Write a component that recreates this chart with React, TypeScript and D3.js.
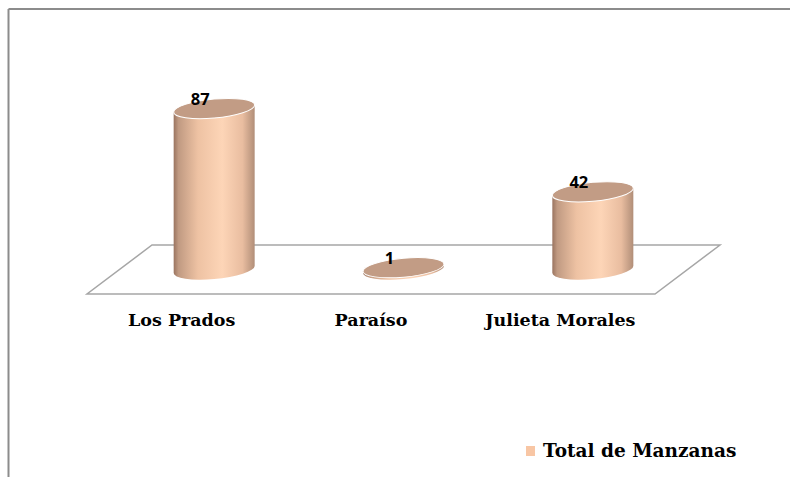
import React from 'react'
import * as d3 from 'd3'

const categories = ['Los Prados', 'Paraíso', 'Julieta Morales']
const manzanas = [87, 1, 42]
const seriesName = 'Total de Manzanas'

const W = 790
const H = 477

// floor (front edge + depth offset)
const frontY = 294
const depthX = 65
const depthY = -49

export default function App() {
	const x = d3.scaleBand<string>().domain(categories).range([87, 655]).padding(0)
	const y = d3.scaleLinear().domain([0, 100]).range([frontY + depthY / 2, frontY + depthY / 2 - 185])

	const midX = (c: string) => x(c)! + x.bandwidth() / 2 + depthX / 2
	const rx = 40.5
	const ry = 9.5

	const floor = [
		[87, frontY], [655, frontY], [655 + depthX, frontY + depthY], [87 + depthX, frontY + depthY],
	]

	return (
		<svg width={W} height={H} style={{ position: 'absolute', left: 0, top: 0, background: '#fff' }}>
			<defs>
				<linearGradient id="body" x1="0" x2="1" y1="0" y2="0">
					<stop offset="0%" stopColor="#9a7460" />
					<stop offset="6%" stopColor="#c09a82" />
					<stop offset="30%" stopColor="#eec2a3" />
					<stop offset="60%" stopColor="#fdd5b7" />
					<stop offset="85%" stopColor="#e9bda0" />
					<stop offset="100%" stopColor="#b18e78" />
				</linearGradient>
			</defs>

			{/* outer frame */}
			<line x1={8.5} y1={9} x2={W} y2={9} stroke="#8c8c8c" strokeWidth={2} />
			<line x1={8.5} y1={9} x2={8.5} y2={H} stroke="#8c8c8c" strokeWidth={2} />

			{/* floor */}
			<polygon points={floor.map(p => p.join(',')).join(' ')} fill="#fff" stroke="#a6a6a6" strokeWidth={1.5} />

			{/* cylinders */}
			{categories.map((c, i) => {
				const cx = midX(c)
				const base = y(0)
				const top = y(manzanas[i])
				const body = `M${cx - rx},${top} L${cx - rx},${base} A${rx},${ry} 0 0 0 ${cx + rx},${base} L${cx + rx},${top} Z`
				return (
					<g key={c} transform={`translate(${cx},0) skewY(-5) translate(${-cx},0)`}>
						<path d={body} fill="url(#body)" />
						<ellipse cx={cx} cy={top} rx={rx} ry={ry} fill="#c29c85" stroke="#fff" strokeWidth={1} />
					</g>
				)
			})}

			{/* value labels */}
			{categories.map((c, i) => (
				<text key={c} x={midX(c) - 14} y={y(manzanas[i]) - 4} textAnchor="middle"
					fontFamily="'Open Sans', sans-serif" fontWeight={700} fontSize={16.5} fill="#000">
					{manzanas[i]}
				</text>
			))}

			{/* category labels */}
			{categories.map(c => (
				<text key={c} x={x(c)! + x.bandwidth() / 2} y={326} textAnchor="middle"
					fontFamily="'DejaVu Serif', serif" fontWeight={700} fontSize={17.5} fill="#000">
					{c}
				</text>
			))}

			{/* legend */}
			<rect x={526} y={446} width={9} height={10} fill="#f8c6a4" />
			<text x={543} y={457} fontFamily="'DejaVu Serif', serif" fontWeight={700} fontSize={18.5} fill="#000">
				{seriesName}
			</text>
		</svg>
	)
}
